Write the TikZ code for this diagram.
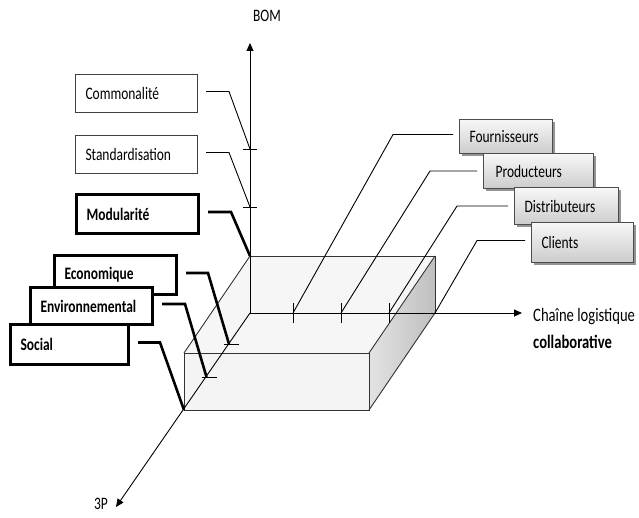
\documentclass[tikz,border=0pt]{standalone}
\usepackage{fontspec}
\setmainfont{Carlito}[FakeStretch=0.77]
\usetikzlibrary{arrows.meta,shadows}
\begin{document}
\begin{tikzpicture}[x=1pt,y=-1pt,
  font=\fontsize{17.5}{20}\selectfont,
  lbox/.style={anchor=north west, inner xsep=10pt, inner ysep=0pt, align=left, fill=white},
  thinbox/.style={lbox, draw=black!75, line width=1pt},
  thickbox/.style={lbox, draw=black, line width=3pt, font=\fontsize{17.5}{20}\selectfont\bfseries},
  gbox/.style={lbox, draw=black!70, line width=1.1pt, top color=gray!6, bottom color=gray!40,
     drop shadow={shadow xshift=2pt, shadow yshift=-2pt, fill=black!60, opacity=0.7}},
  axis/.style={line width=0.9pt, -{Triangle[length=8pt,width=7pt]}},
  edge/.style={line width=0.9pt, draw=black!80},
  conn/.style={line width=0.9pt},
  tconn/.style={line width=2.6pt},
  tick/.style={line width=0.9pt}
]
\useasboundingbox (0,0) rectangle (639,518);

% key points of the box / axes
\coordinate (O) at (250,313);
\coordinate (A) at (250,256);
\coordinate (B) at (435,256);
\coordinate (C) at (435,313);
\coordinate (D) at (184,353);
\coordinate (E) at (369,353);
\coordinate (F) at (369,410);
\coordinate (G) at (184,410);
\coordinate (bomtip) at (250,43);
\coordinate (sctip) at (522,313);
\coordinate (ptip) at (116,507);
\coordinate (tb1) at (250,149);
\coordinate (tb2) at (250,207);
\coordinate (th1) at (293,313);
\coordinate (th2) at (341,313);
\coordinate (th3) at (389,313);
\coordinate (tp1) at (229,344);
\coordinate (tp2) at (206.5,377);

% box faces
\fill[gray!7] (A) -- (B) -- (E) -- (D) -- cycle;
\fill[gray!9] (D) -- (E) -- (F) -- (G) -- cycle;
\shade[left color=gray!22, right color=gray!50] (B) -- (C) -- (F) -- (E) -- cycle;

% box edges
\draw[edge] (A) -- (B) -- (C);
\draw[edge] (A) -- (D);
\draw[edge] (D) -- (E) -- (F) -- (G) -- cycle;
\draw[edge] (B) -- (E);
\draw[edge] (C) -- (F);

% axes
\draw[axis] (O) -- (bomtip);
\draw[axis] (O) -- (sctip);
\draw[axis] (O) -- (ptip);
\node (bom) at (267,16) {BOM};
\node (p3) at (101,504) {3P};
\node[anchor=base west, inner sep=0pt, font=\fontsize{19}{22}\selectfont] (sc1) at (533,321) {Chaîne logistique};
\node[anchor=base west, inner sep=0pt, font=\fontsize{19}{22}\selectfont\bfseries] (sc2) at (533,348) {collaborative};

% ticks
\draw[tick] ([xshift=-7pt]tb1) -- ([xshift=7pt]tb1);
\draw[tick] ([xshift=-7pt]tb2) -- ([xshift=7pt]tb2);
\draw[tick] ([yshift=10pt]th1) -- ([yshift=-10pt]th1);
\draw[tick] ([yshift=10pt]th2) -- ([yshift=-10pt]th2);
\draw[tick] ([yshift=10pt]th3) -- ([yshift=-10pt]th3);
\draw[tick] ([xshift=-5pt]tp1) -- ([xshift=10pt]tp1);
\draw[tick] ([xshift=-5pt]tp2) -- ([xshift=10pt]tp2);

% left labels (BOM)
\node[thinbox, text width=102pt, minimum height=38pt] (com) at (75,74) {Commonalité};
\node[thinbox, text width=102pt, minimum height=38pt] (std) at (75,135) {Standardisation};
\node[thickbox, text width=102pt, minimum height=39pt] (mod) at (75,193) {Modularité};

% left labels (3P)
\node[thickbox, text width=102pt, minimum height=39pt] (eco) at (53,254) {Economique};
\node[thickbox, text width=102pt, minimum height=37pt] (env) at (29,286) {Environnemental};
\node[thickbox, text width=98pt, minimum height=40pt] (soc) at (9,323) {Social};

% right labels
\node[gbox, text width=73pt, minimum height=34pt] (four) at (459,119) {Fournisseurs};
\node[gbox, text width=86pt, minimum height=35pt, inner xsep=12pt] (prod) at (483,153) {Producteurs};
\node[gbox, text width=84pt, minimum height=37pt] (dist) at (514,187) {Distributeurs};
\node[gbox, text width=82pt, minimum height=40pt] (cli) at (531,222) {Clients};

% connectors
\draw[conn] ([xshift=8pt,yshift=2pt]com.east) -- ++(23,0) -- (tb1);
\draw[conn] ([xshift=8pt,yshift=2pt]std.east) -- ++(23,0) -- (tb2);
\draw[tconn] ([xshift=8pt,yshift=2pt]mod.east) -- ++(23,0) -- (A);
\draw[tconn] ([xshift=8pt,yshift=2pt]eco.east) -- ++(22,0) -- (tp1);
\draw[tconn] ([xshift=8pt,yshift=2pt]env.east) -- ++(23,0) -- (tp2);
\draw[tconn] ([xshift=8pt,yshift=2pt]soc.east) -- ++(22,0) -- (G);

\draw[conn] ([xshift=-6pt,yshift=2pt]four.west) -- ++(-60,0) -- (th1);
\draw[conn] ([xshift=-6pt]prod.west) -- ++(-47,0) -- (th2);
\draw[conn] ([xshift=-6pt]dist.west) -- ++(-51,0) -- (th3);
\draw[conn] ([xshift=-6pt,yshift=2pt]cli.west) -- ++(-48,0) -- (C);
\end{tikzpicture}
\end{document}
